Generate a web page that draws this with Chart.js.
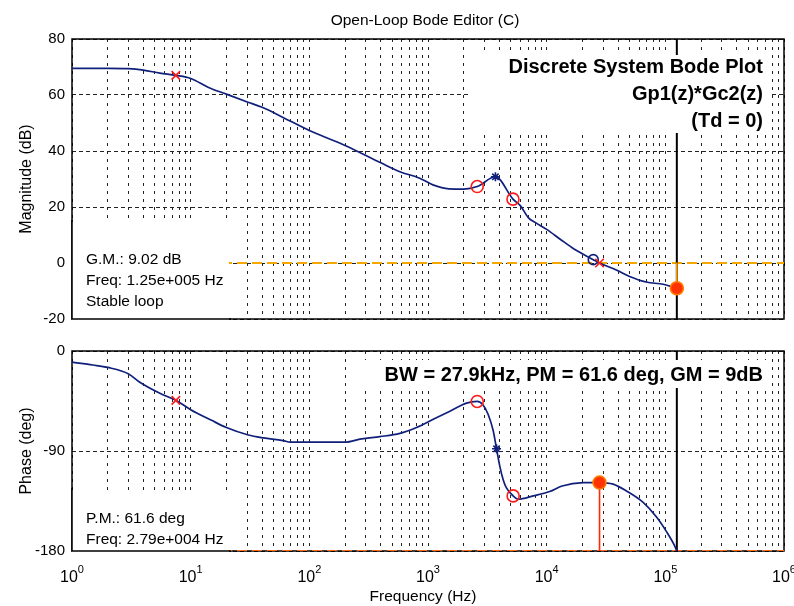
<!DOCTYPE html>
<html><head><meta charset="utf-8">
<script src="https://cdn.jsdelivr.net/npm/chart.js@4.4.0/dist/chart.umd.min.js"></script>
<style>
html,body{margin:0;padding:0;background:#fff;overflow:hidden;width:794px;height:606px}
canvas{position:absolute;left:0}
#c1{top:0}
#c2{top:335px}
</style></head><body>
<canvas id="c1" width="794" height="335"></canvas>
<canvas id="c2" width="794" height="271"></canvas>
<script>
// ---------------- data ----------------
const magFreq = [1, 2, 3, 4, 5.5, 7.5, 10, 14, 20, 30, 40, 60, 100, 200, 400, 580, 850, 1100, 1500, 2000, 2600, 3700, 5200, 6000, 7000, 8000, 10000, 13000, 17000, 24700, 27900, 39000, 50000, 69000, 96000, 125000];
const magDb   = [69.5, 69.5, 69.4, 68.9, 67.8, 67.0, 65.9, 62.8, 60.3, 57.5, 55.6, 52.0, 47.3, 42.0, 35.8, 32.6, 30.3, 27.9, 26.5, 26.4, 27.3, 30.8, 22.8, 20.5, 16.2, 14.5, 12.0, 8.5, 5.0, 1.2, 0.0, -2.6, -4.8, -6.8, -7.6, -9.02];

const phaseFreq = [1, 1.5, 2, 3, 3.7, 5.5, 7.5, 10, 15, 20, 30.6, 41, 60, 69, 200, 275, 393, 580, 800, 1107, 1530, 2110, 2600, 2900, 3215, 3545, 3780, 4035, 4300, 4570, 5220, 5750, 7700, 10600, 13500, 20300, 27900, 36300, 47100, 65000, 84300, 102300, 120400, 125000];
const phaseDeg  = [-10.0, -12.6, -14.8, -20.6, -27.9, -38.1, -44.4, -52.8, -62.4, -68.9, -75.6, -78.2, -80.6, -82.1, -82.1, -79.1, -77.1, -74.2, -68.9, -61.5, -54.2, -46.9, -45.4, -48.4, -57.1, -71.8, -88.0, -104.0, -115.8, -123.0, -130.4, -133.3, -130.4, -126.5, -121.5, -118.5, -118.4, -119.8, -126.0, -136.2, -149.4, -162.6, -175.8, -180.0];

// markers
const magCrossF   = [7.5, 27900];   const magCrossV   = [67.0, 0.0];
const magCircleF  = [2600, 5200];   const magCircleV  = [27.3, 22.8];
const magStarF    = [3700];         const magStarV    = [30.8];
const magBlueF    = [24700];        const magBlueV    = [1.2];
const phCrossF    = [7.5];          const phCrossV    = [-44.4];
const phCircleF   = [2600, 5220];   const phCircleV   = [-45.4, -130.4];
const phStarF     = [3780];         const phStarV     = [-88.0];

const nyquistHz = 125000;   // GM frequency
const gmDb = -9.02;
const bwHz = 27900;         // PM frequency
const pmPhase = -118.4;

const magRange = [-20, 80];   const magStep = 20;
const phaseRange = [-180, 0]; const phaseStep = 90;
const xRange = [1, 1e6];
const xDecades = [1, 10, 100, 1e3, 1e4, 1e5, 1e6];
const xTickBase = '10';
const xTickExp = ['0', '1', '2', '3', '4', '5', '6'];

const titleText = 'Open-Loop Bode Editor (C)';
const magTitle = 'Magnitude (dB)';
const phaseTitle = 'Phase (deg)';
const xTitle = 'Frequency (Hz)';
const magHeadline = ['Discrete System Bode Plot', 'Gp1(z)*Gc2(z)', '(Td = 0)'];
const magNotes = ['G.M.: 9.02 dB', 'Freq: 1.25e+005 Hz', 'Stable loop'];
const phaseHeadline = 'BW = 27.9kHz, PM = 61.6 deg, GM = 9dB';
const phaseNotes = ['P.M.: 61.6 deg', 'Freq: 2.79e+004 Hz'];

// ---------------- helpers ----------------
const FONT = "'Liberation Sans', Arial, sans-serif";
const CURVE = '#10207a';
const pts = (xs, ys) => xs.map((x, i) => ({x: x, y: ys[i]}));
const gridTicks = [];
xDecades.forEach((d, i) => {
  if (i < xDecades.length - 1) { for (let m = 1; m <= 9; m++) gridTicks.push(d * m); }
  else gridTicks.push(d);
});

function xScale() {
  return {
    type: 'logarithmic', min: xRange[0], max: xRange[1],
    afterBuildTicks: s => { s.ticks = gridTicks.map(v => ({value: v})); },
    afterFit: s => { s.height = 0; s.paddingLeft = 0; s.paddingRight = 0; },
    ticks: {display: false, autoSkip: false},
    grid: {color: '#222', lineWidth: 1, drawTicks: false},
    border: {display: false, dash: [3, 5]}
  };
}
function yScale(range, step) {
  return {
    min: range[0], max: range[1],
    afterFit: s => { s.width = 72; },
    ticks: {stepSize: step, color: '#000', font: {family: FONT, size: 15}, padding: 7},
    grid: {color: '#222', lineWidth: 1, drawTicks: false},
    border: {display: false, dash: [4, 3]}
  };
}
function markerSet(xs, ys, style, color, radius, fill) {
  return {data: pts(xs, ys), showLine: false, pointStyle: style, pointRadius: radius,
          pointBorderColor: color, pointBackgroundColor: fill || 'rgba(0,0,0,0)', pointBorderWidth: 1.6};
}
function lineSet(data, color, width, dash) {
  return {data: data, borderColor: color, borderWidth: width, borderDash: dash || [], pointRadius: 0, tension: 0, fill: false};
}
function curveSet(data) {
  return {data: data, borderColor: CURVE, borderWidth: 1.7, pointRadius: 0, cubicInterpolationMode: 'monotone', fill: false};
}
function frame(ctx, a) {
  ctx.strokeStyle = '#000'; ctx.lineWidth = 1.5; ctx.setLineDash([]);
  ctx.strokeRect(a.left, a.top, a.right - a.left, a.bottom - a.top);
}
function boxWithFrame(ctx, a, x, y, w, h) {
  ctx.fillStyle = '#fff';
  ctx.fillRect(x, y, w, h);
  ctx.save();
  ctx.beginPath(); ctx.rect(x - 2, y - 2, w + 4, h + 4); ctx.clip();
  frame(ctx, a);
  ctx.restore();
}
function yTitle(ctx, text, a) {
  ctx.save();
  ctx.translate(27, (a.top + a.bottom) / 2);
  ctx.rotate(-Math.PI / 2);
  ctx.font = '16px ' + FONT; ctx.fillStyle = '#000';
  ctx.textAlign = 'center'; ctx.textBaseline = 'middle';
  ctx.fillText(text, 0, 0);
  ctx.restore();
}
const frameFirst = {
  id: 'frameFirst',
  beforeDatasetsDraw(chart) { const c = chart.ctx; c.save(); frame(c, chart.chartArea); c.restore(); }
};

const baseOpts = {
  responsive: false, animation: false, devicePixelRatio: 1,
  plugins: {legend: {display: false}, tooltip: {enabled: false}, title: {display: false}},
  elements: {line: {borderJoinStyle: 'round'}}
};

// ---------------- magnitude chart ----------------
const magDeco = {
  id: 'magDeco',
  afterDraw(chart) {
    const {ctx, chartArea: a} = chart;
    ctx.save();
    boxWithFrame(ctx, a, a.right - 314, a.top + 16, 300, 78);
    boxWithFrame(ctx, a, a.left, a.bottom - 97, 157, 98);
    ctx.fillStyle = '#000';
    ctx.textBaseline = 'alphabetic';
    ctx.font = 'bold 20px ' + FONT; ctx.textAlign = 'right';
    magHeadline.forEach((t, i) => ctx.fillText(t, a.right - 21, a.top + 34 + i * 27));
    ctx.font = '15.5px ' + FONT; ctx.textAlign = 'left';
    magNotes.forEach((t, i) => ctx.fillText(t, a.left + 14, a.bottom - 55 + i * 21));
    ctx.textAlign = 'center';
    ctx.fillText(titleText, 425, 25);
    yTitle(ctx, magTitle, a);
    ctx.restore();
  }
};

new Chart(document.getElementById('c1'), {
  type: 'line',
  data: {datasets: [
    markerSet([nyquistHz], [gmDb], 'circle', '#ff7a00', 6.5, '#ff3300'),
    markerSet(magCrossF, magCrossV, 'crossRot', '#ff1a1a', 6),
    markerSet(magCircleF, magCircleV, 'circle', '#ff1a1a', 6),
    markerSet(magStarF, magStarV, 'star', CURVE, 4.5),
    markerSet(magBlueF, magBlueV, 'circle', CURVE, 5),
    curveSet(pts(magFreq, magDb)),
    lineSet(pts([nyquistHz, nyquistHz], [0, gmDb]), '#ffa000', 1.6),
    lineSet(pts([nyquistHz, nyquistHz], magRange), '#000', 2),
    lineSet(pts(xRange, [0, 0]), '#f5a800', 2, [10, 5])
  ]},
  options: Object.assign({}, baseOpts, {
    layout: {padding: {top: 39, bottom: 12.5, left: 0, right: 10}},
    scales: {x: xScale(), y: yScale(magRange, magStep)}
  }),
  plugins: [frameFirst, magDeco]
});

// ---------------- phase chart ----------------
const phaseDeco = {
  id: 'phaseDeco',
  afterDraw(chart) {
    const {ctx, chartArea: a} = chart;
    const xs = chart.scales.x;
    ctx.save();
    boxWithFrame(ctx, a, a.right - 419, a.top + 9, 405, 28);
    boxWithFrame(ctx, a, a.left, a.bottom - 61, 157, 63);
    ctx.fillStyle = '#000';
    ctx.textBaseline = 'alphabetic';
    ctx.font = 'bold 20px ' + FONT; ctx.textAlign = 'right';
    ctx.fillText(phaseHeadline, a.right - 21, a.top + 30);
    ctx.font = '15.5px ' + FONT; ctx.textAlign = 'left';
    phaseNotes.forEach((t, i) => ctx.fillText(t, a.left + 14, a.bottom - 28 + i * 21));
    // x tick labels 10^n
    xDecades.forEach((v, i) => {
      const px = xs.getPixelForValue(v);
      ctx.font = '16px ' + FONT;
      const w1 = ctx.measureText(xTickBase).width;
      ctx.font = '11px ' + FONT;
      const w2 = ctx.measureText(xTickExp[i]).width;
      const x0 = px - (w1 + w2) / 2;
      ctx.textAlign = 'left';
      ctx.font = '16px ' + FONT;
      ctx.fillText(xTickBase, x0, a.bottom + 31);
      ctx.font = '11px ' + FONT;
      ctx.fillText(xTickExp[i], x0 + w1, a.bottom + 22);
    });
    ctx.font = '15.5px ' + FONT; ctx.textAlign = 'center';
    ctx.fillText(xTitle, 423, a.bottom + 50);
    yTitle(ctx, phaseTitle, a);
    ctx.restore();
  }
};

new Chart(document.getElementById('c2'), {
  type: 'line',
  data: {datasets: [
    markerSet([bwHz], [pmPhase], 'circle', '#ff7a00', 6.5, '#ff3300'),
    markerSet(phCrossF, phCrossV, 'crossRot', '#ff1a1a', 6),
    markerSet(phCircleF, phCircleV, 'circle', '#ff1a1a', 6),
    markerSet(phStarF, phStarV, 'star', CURVE, 4.5),
    curveSet(pts(phaseFreq, phaseDeg)),
    lineSet(pts([bwHz, bwHz], [phaseRange[0], pmPhase]), '#ff2a00', 1.6),
    lineSet(pts([nyquistHz, nyquistHz], phaseRange), '#000', 2),
    lineSet(pts(xRange, [-180, -180]), '#ff6a1a', 2, [10, 5])
  ]},
  options: Object.assign({}, baseOpts, {
    layout: {padding: {top: 13, bottom: 55, left: 0, right: 10}},
    scales: {x: xScale(), y: yScale(phaseRange, phaseStep)}
  }),
  plugins: [frameFirst, phaseDeco]
});
</script>
</body></html>
